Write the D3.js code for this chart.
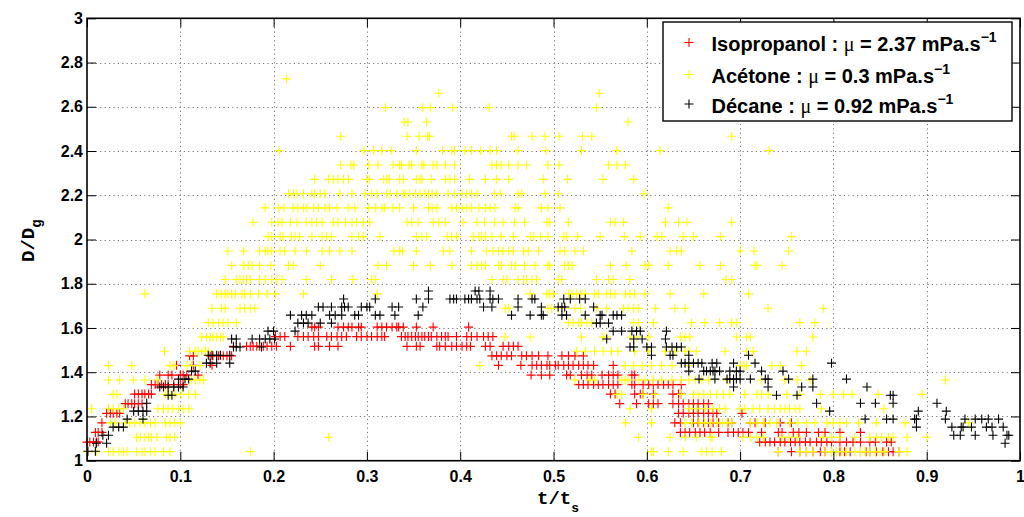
<!DOCTYPE html>
<html><head><meta charset="utf-8">
<script src="https://cdn.jsdelivr.net/npm/d3@7/dist/d3.min.js"></script>
<style>body{margin:0;background:#fff}</style>
</head><body>
<svg id="chart" width="1024" height="517"></svg>
<script>
// ---------- data ----------
const xTicks = [0, 0.1, 0.2, 0.3, 0.4, 0.5, 0.6, 0.7, 0.8, 0.9, 1];
const yTicks = [1, 1.2, 1.4, 1.6, 1.8, 2, 2.2, 2.4, 2.6, 2.8, 3];
const xTickLabels = ["0","0.1","0.2","0.3","0.4","0.5","0.6","0.7","0.8","0.9","1"];
const yTickLabels = ["1","1.2","1.4","1.6","1.8","2","2.2","2.4","2.6","2.8","3"];
const seriesNames = ["Isopropanol : ", "Acétone : ", "Décane : "];
const seriesMu = ["2.37", "0.3", "0.92"];
const seriesColors = ["#ff0000", "#ffff00", "#000000"];

// rows: [D/Dg level, [t/ts values]]
const isopropanolRows = [
 [1.041,[0.741,0.755,0.764,0.771,0.778,0.786,0.791,0.798,0.807,0.812,0.818,0.829,0.835,0.839,0.846,0.853,0.859,0.864,0.870]],
 [1.084,[0.000,0.003,0.007,0.010,0.012,0.721,0.727,0.732,0.737,0.743,0.748,0.754,0.759,0.764,0.770,0.775,0.782,0.787,0.793,0.798,0.807,0.814,0.821,0.829,0.839,0.845,0.857,0.862]],
 [1.128,[0.009,0.012,0.016,0.636,0.641,0.646,0.652,0.657,0.662,0.668,0.677,0.687,0.693,0.698,0.703,0.709,0.723,0.741,0.745,0.757,0.763,0.771,0.784,0.791,0.807,0.829]],
 [1.171,[0.016,0.630,0.636,0.650,0.655,0.661,0.666,0.671,0.677,0.687,0.691,0.711,0.716,0.727,0.743,0.755]],
 [1.214,[0.021,0.025,0.028,0.032,0.035,0.634,0.639,0.645,0.650,0.655,0.661,0.666,0.671,0.675,0.702]],
 [1.258,[0.041,0.044,0.048,0.051,0.055,0.059,0.571,0.589,0.602,0.607,0.612,0.628,0.634,0.639,0.645,0.650,0.655,0.661,0.666]],
 [1.301,[0.051,0.055,0.059,0.062,0.066,0.069,0.561,0.566,0.587,0.593,0.596,0.607,0.628,0.634,0.637]],
 [1.344,[0.069,0.073,0.076,0.080,0.084,0.087,0.093,0.100,0.103,0.527,0.532,0.537,0.543,0.548,0.553,0.559,0.564,0.569,0.584,0.587,0.596,0.602,0.607,0.612,0.618,0.623,0.628,0.637]],
 [1.387,[0.078,0.087,0.091,0.100,0.103,0.107,0.119,0.476,0.487,0.496,0.514,0.518,0.530,0.536,0.541,0.552,0.559,0.564,0.569,0.584,0.587]],
 [1.431,[0.096,0.114,0.134,0.441,0.465,0.477,0.482,0.487,0.493,0.496,0.502,0.505,0.511,0.516,0.521,0.527,0.532,0.537,0.543,0.564]],
 [1.474,[0.110,0.114,0.132,0.135,0.141,0.146,0.150,0.155,0.434,0.439,0.444,0.450,0.455,0.466,0.471,0.477,0.484,0.494,0.509,0.516,0.523,0.532]],
 [1.517,[0.157,0.171,0.175,0.178,0.182,0.185,0.189,0.193,0.198,0.203,0.218,0.244,0.248,0.260,0.269,0.343,0.353,0.357,0.375,0.378,0.384,0.391,0.396,0.402,0.407,0.411,0.427,0.432,0.446,0.452,0.457,0.462]],
 [1.561,[0.202,0.207,0.212,0.226,0.232,0.237,0.243,0.248,0.257,0.262,0.268,0.273,0.278,0.289,0.294,0.300,0.305,0.311,0.316,0.319,0.337,0.341,0.344,0.348,0.352,0.355,0.359,0.362,0.366,0.369,0.375,0.380,0.384,0.387,0.396,0.407,0.412,0.418,0.425,0.430,0.435]],
 [1.604,[0.241,0.244,0.248,0.269,0.275,0.280,0.284,0.291,0.294,0.311,0.316,0.321,0.327,0.332,0.334,0.339,0.353,0.371,0.409]]
];
const acetoneRows = [
 [1.041,[0.000,0.010,0.023,0.028,0.034,0.039,0.043,0.053,0.059,0.062,0.068,0.073,0.082,0.089,0.175,0.605,0.607,0.623,0.639,0.659,0.664,0.670,0.680,0.741,0.764,0.771,0.778,0.791,0.798,0.803,0.809,0.814,0.823,0.829,0.834,0.839,0.845,0.850,0.855,0.870,0.879]],
 [1.106,[0.053,0.057,0.062,0.066,0.069,0.075,0.085,0.089,0.094,0.259,0.591,0.625,0.641,0.653,0.668,0.670,0.703,0.711,0.718,0.725,0.745,0.752,0.761,0.789,0.798,0.807,0.823,0.839,0.846,0.852,0.859,0.864,0.879,0.900]],
 [1.171,[0.025,0.030,0.041,0.046,0.051,0.057,0.062,0.068,0.073,0.084,0.089,0.094,0.100,0.577,0.605,0.641,0.648,0.656,0.662,0.668,0.675,0.681,0.686,0.691,0.711,0.718,0.725,0.732,0.739,0.753,0.762,0.771,0.780,0.793,0.800,0.807,0.814,0.827,0.846,0.877,0.945]],
 [1.235,[0.005,0.023,0.028,0.034,0.039,0.076,0.082,0.087,0.092,0.098,0.103,0.109,0.582,0.605,0.645,0.653,0.662,0.671,0.678,0.684,0.700,0.705,0.714,0.721,0.730,0.737,0.743,0.748,0.753,0.759,0.764,0.787,0.854]],
 [1.300,[0.028,0.032,0.084,0.089,0.094,0.101,0.109,0.116,0.568,0.573,0.596,0.609,0.637,0.650,0.655,0.661,0.668,0.675,0.682,0.689,0.705,0.718,0.723,0.730,0.750,0.764,0.786,0.800,0.811,0.820,0.848,0.895]],
 [1.365,[0.023,0.035,0.050,0.062,0.075,0.109,0.112,0.116,0.121,0.125,0.523,0.539,0.544,0.573,0.577,0.580,0.591,0.598,0.607,0.616,0.627,0.637,0.645,0.652,0.659,0.666,0.686,0.723,0.748,0.761,0.775,0.920]],
 [1.430,[0.023,0.048,0.089,0.093,0.107,0.112,0.121,0.421,0.577,0.586,0.595,0.605,0.616,0.627,0.645,0.700,0.704,0.707,0.734,0.743,0.766]],
 [1.495,[0.083,0.110,0.116,0.119,0.123,0.127,0.130,0.525,0.534,0.544,0.553,0.562,0.569,0.587,0.602,0.620,0.630,0.641,0.645,0.653,0.684,0.707,0.714,0.761,0.771]],
 [1.559,[0.123,0.128,0.132,0.135,0.139,0.143,0.146,0.448,0.475,0.530,0.553,0.557,0.583,0.589,0.602,0.636,0.641,0.646,0.696,0.707,0.711,0.778]],
 [1.624,[0.130,0.135,0.141,0.146,0.151,0.160,0.516,0.521,0.527,0.530,0.536,0.541,0.586,0.591,0.607,0.648,0.662,0.678,0.691,0.696,0.764,0.780]],
 [1.689,[0.134,0.144,0.148,0.164,0.169,0.175,0.180,0.448,0.452,0.494,0.498,0.505,0.512,0.523,0.529,0.546,0.557,0.575,0.580,0.586,0.591,0.609,0.630,0.641,0.730,0.789]],
 [1.754,[0.062,0.139,0.144,0.148,0.151,0.155,0.159,0.166,0.169,0.175,0.184,0.193,0.202,0.232,0.311,0.475,0.493,0.496,0.500,0.516,0.520,0.525,0.529,0.534,0.544,0.548,0.557,0.561,0.566,0.577,0.582,0.587,0.598,0.625,0.661,0.709]],
 [1.819,[0.148,0.160,0.164,0.168,0.171,0.175,0.185,0.191,0.198,0.203,0.209,0.235,0.262,0.285,0.305,0.309,0.434,0.446,0.450,0.462,0.468,0.471,0.477,0.482,0.505,0.509,0.546,0.559,0.564,0.582,0.685,0.691]],
 [1.883,[0.155,0.168,0.173,0.177,0.185,0.197,0.216,0.221,0.250,0.312,0.321,0.350,0.368,0.391,0.412,0.418,0.423,0.427,0.441,0.444,0.455,0.459,0.469,0.480,0.494,0.496,0.512,0.516,0.520,0.561,0.578,0.598,0.602,0.623,0.657,0.679,0.716,0.718,0.745]],
 [1.948,[0.151,0.168,0.185,0.191,0.194,0.198,0.207,0.212,0.223,0.235,0.252,0.260,0.271,0.284,0.329,0.335,0.338,0.353,0.382,0.389,0.412,0.428,0.435,0.441,0.446,0.452,0.457,0.468,0.473,0.484,0.507,0.512,0.523,0.532,0.584,0.625,0.632,0.637,0.700,0.715,0.752]],
 [2.013,[0.194,0.198,0.207,0.210,0.219,0.223,0.228,0.241,0.252,0.257,0.262,0.284,0.291,0.296,0.314,0.353,0.359,0.364,0.386,0.391,0.396,0.414,0.420,0.423,0.427,0.434,0.444,0.457,0.475,0.479,0.486,0.494,0.511,0.514,0.526,0.550,0.576,0.593,0.611,0.616,0.639,0.650,0.679,0.755]],
 [2.078,[0.178,0.198,0.205,0.209,0.218,0.225,0.235,0.241,0.246,0.252,0.264,0.269,0.277,0.284,0.289,0.296,0.303,0.343,0.348,0.355,0.371,0.377,0.384,0.403,0.418,0.426,0.437,0.446,0.458,0.469,0.493,0.496,0.516,0.561,0.566,0.575,0.620,0.634,0.643,0.691]],
 [2.143,[0.191,0.205,0.211,0.221,0.226,0.232,0.235,0.243,0.248,0.255,0.260,0.268,0.280,0.287,0.302,0.309,0.316,0.319,0.328,0.335,0.350,0.366,0.370,0.375,0.391,0.396,0.402,0.407,0.412,0.420,0.427,0.432,0.437,0.459,0.462,0.487,0.494,0.507,0.623]],
 [2.207,[0.216,0.221,0.225,0.232,0.241,0.244,0.250,0.255,0.271,0.284,0.298,0.305,0.311,0.321,0.325,0.332,0.339,0.341,0.346,0.352,0.357,0.362,0.366,0.370,0.375,0.387,0.394,0.402,0.407,0.412,0.418,0.437,0.443,0.462,0.466,0.491,0.505,0.597]],
 [2.272,[0.244,0.259,0.264,0.269,0.275,0.280,0.300,0.303,0.318,0.321,0.324,0.335,0.339,0.353,0.357,0.359,0.369,0.384,0.389,0.394,0.410,0.427,0.439,0.452,0.489,0.515,0.553,0.586]],
 [2.337,[0.272,0.283,0.286,0.302,0.312,0.328,0.335,0.337,0.345,0.348,0.359,0.361,0.371,0.375,0.384,0.394,0.434,0.439,0.444,0.452,0.462,0.471,0.494,0.506,0.559,0.568,0.577]],
 [2.402,[0.206,0.297,0.307,0.316,0.326,0.353,0.381,0.391,0.394,0.405,0.412,0.422,0.432,0.439,0.462,0.492,0.530,0.568,0.614,0.731]],
 [2.467,[0.272,0.343,0.356,0.365,0.367,0.455,0.458,0.477,0.491,0.506,0.531,0.541,0.691]],
 [2.531,[0.340,0.344,0.364,0.580]],
 [2.596,[0.320,0.360,0.368,0.392,0.431,0.546]],
 [2.661,[0.377,0.549]],
 [2.726,[0.214]]
];
const decaneRows = [
 [1.043,[0.001,0.009]],
 [1.079,[0.010,0.021,0.984]],
 [1.115,[0.017,0.023,0.929,0.936,0.952,0.971,0.986,0.988]],
 [1.152,[0.028,0.034,0.039,0.889,0.927,0.937,0.939,0.948,0.964,0.970,0.982]],
 [1.188,[0.043,0.060,0.834,0.857,0.864,0.887,0.889,0.920,0.941,0.952,0.959,0.966,0.977]],
 [1.224,[0.050,0.055,0.060,0.064,0.796,0.891,0.921]],
 [1.260,[0.064,0.782,0.829,0.845,0.864,0.911]],
 [1.296,[0.087,0.091,0.739,0.761,0.861,0.864]],
 [1.333,[0.078,0.082,0.087,0.093,0.098,0.103,0.693,0.730,0.766,0.778,0.836]],
 [1.369,[0.098,0.105,0.109,0.656,0.673,0.686,0.689,0.693,0.696,0.700,0.711,0.727,0.730,0.752,0.778,0.814]],
 [1.405,[0.112,0.116,0.645,0.661,0.664,0.668,0.671,0.673,0.678,0.689,0.696,0.700,0.723,0.746]],
 [1.441,[0.128,0.132,0.139,0.153,0.637,0.641,0.645,0.650,0.655,0.659,0.670,0.675,0.693,0.716,0.798]],
 [1.477,[0.130,0.134,0.139,0.143,0.153,0.605,0.625,0.628,0.645,0.709]],
 [1.514,[0.157,0.160,0.164,0.187,0.582,0.586,0.600,0.605,0.621,0.627,0.632,0.637]],
 [1.550,[0.155,0.160,0.177,0.185,0.191,0.196,0.201,0.557,0.586,0.595,0.620]],
 [1.586,[0.194,0.200,0.223,0.564,0.573,0.584,0.589,0.593,0.621]],
 [1.622,[0.226,0.232,0.237,0.250,0.262,0.546,0.550,0.559]],
 [1.658,[0.218,0.230,0.235,0.241,0.260,0.266,0.273,0.287,0.291,0.309,0.314,0.330,0.355,0.455,0.475,0.487,0.489,0.509,0.514,0.534,0.550,0.552,0.564,0.568,0.573]],
 [1.695,[0.248,0.253,0.262,0.273,0.276,0.280,0.294,0.300,0.303,0.327,0.334,0.360,0.425,0.434,0.462,0.487,0.505,0.509,0.512,0.543]],
 [1.731,[0.275,0.309,0.353,0.366,0.389,0.393,0.396,0.405,0.409,0.412,0.418,0.421,0.432,0.435,0.441,0.462,0.477,0.480,0.511,0.518,0.528,0.534]],
 [1.767,[0.366,0.416,0.420,0.432]]
];

// ---------- drawing ----------
const svg = d3.select("#chart");
const L = 87, R = 1020, T = 18.3, B = 460.7;
const x = d3.scaleLinear().domain([0, 1]).range([L, R]);
const y = d3.scaleLinear().domain([1, 3]).range([B, T]);
const tickFont = "'Liberation Sans', Arial, Helvetica, sans-serif";

// grid
const grid = svg.append("g").attr("stroke", "#777").attr("stroke-width", 1).attr("stroke-dasharray", "1.2,3.2");
grid.selectAll(".gx").data(xTicks.slice(1, -1)).enter().append("line")
  .attr("x1", d => Math.round(x(d)) + 0.5).attr("x2", d => Math.round(x(d)) + 0.5).attr("y1", T).attr("y2", B);
grid.selectAll(".gy").data(yTicks.slice(1, -1)).enter().append("line")
  .attr("y1", d => Math.round(y(d)) + 0.5).attr("y2", d => Math.round(y(d)) + 0.5).attr("x1", L).attr("x2", R);

// markers
function flatten(rows) {
  const pts = [];
  rows.forEach(([lv, xs]) => xs.forEach(t => pts.push([t, lv])));
  return pts;
}
const allSeries = [flatten(isopropanolRows), flatten(acetoneRows), flatten(decaneRows)];
const h = 4.5;
allSeries.forEach((pts, i) => {
  svg.append("g").attr("stroke", seriesColors[i]).attr("stroke-width", 1.1).attr("fill", "none")
    .selectAll("path").data(pts).enter().append("path")
    .attr("d", d => {
      const px = x(d[0]), py = y(d[1]);
      return `M${px - h},${py}H${px + h}M${px},${py - h}V${py + h}`;
    });
});

// axes
const axB = d3.axisBottom(x).tickValues(xTicks).tickFormat((d, i) => xTickLabels[i]).tickSizeInner(-9).tickSizeOuter(0).tickPadding(10);
const axL = d3.axisLeft(y).tickValues(yTicks).tickFormat((d, i) => yTickLabels[i]).tickSizeInner(-9).tickSizeOuter(0).tickPadding(4);
const axT = d3.axisTop(x).tickValues(xTicks).tickFormat("").tickSizeInner(-9).tickSizeOuter(0);
const axR = d3.axisRight(y).tickValues(yTicks).tickFormat("").tickSizeInner(-9).tickSizeOuter(0);
function styleAxis(g) {
  g.select(".domain").remove();
  g.selectAll(".tick line").attr("stroke", "#000").attr("stroke-width", 1);
  g.selectAll("text").attr("fill", "#000").style("font-family", tickFont).style("font-weight", "bold").style("font-size", "16px");
}
svg.append("g").attr("transform", `translate(0,${B})`).call(axB).call(styleAxis);
svg.append("g").attr("transform", `translate(${L},0)`).call(axL).call(styleAxis);
svg.append("g").attr("transform", `translate(0,${T})`).call(axT).call(styleAxis);
svg.append("g").attr("transform", `translate(${R},0)`).call(axR).call(styleAxis);

svg.append("rect").attr("x", L).attr("y", T).attr("width", R - L).attr("height", B - T)
  .attr("fill", "none").attr("stroke", "#000").attr("stroke-width", 1.6);

// axis labels
const mono = "'Liberation Mono', 'DejaVu Sans Mono', monospace";
const xl = svg.append("text").attr("x", 537).attr("y", 504).style("font-family", mono).style("font-weight", "bold").style("font-size", "19px").text("t/t");
xl.append("tspan").attr("dy", 8).style("font-size", "13px").text("s");
const yl = svg.append("text").attr("transform", "translate(34,262) rotate(-90)").style("font-family", mono).style("font-weight", "bold").style("font-size", "19px").text("D/D");
yl.append("tspan").attr("dy", 7).style("font-size", "14px").text("g");

// legend
const lg = svg.append("g");
lg.append("rect").attr("x", 663).attr("y", 22).attr("width", 349).attr("height", 99)
  .attr("fill", "#fff").attr("stroke", "#000").attr("stroke-width", 1.4);
const baselines = [51, 83, 112.5];
seriesNames.forEach((nm, i) => {
  const by = baselines[i];
  const mx = 689, my = by - 8.5;
  lg.append("path").attr("stroke", seriesColors[i]).attr("stroke-width", 1.1).attr("fill", "none")
    .attr("d", `M${mx - h},${my}H${mx + h}M${mx},${my - h}V${my + h}`);
  const t = lg.append("text").attr("x", 711.5).attr("y", by).style("font-family", tickFont).style("font-size", "20px").style("font-weight", "bold");
  t.append("tspan").text(nm);
  t.append("tspan").style("font-family", "'Liberation Serif', 'Times New Roman', serif").style("font-weight", "normal").text("\u03bc");
  t.append("tspan").text(" = " + seriesMu[i] + " mPa.s");
  t.append("tspan").attr("dy", -9).style("font-size", "14px").text("\u22121");
});
</script>
</body></html>
